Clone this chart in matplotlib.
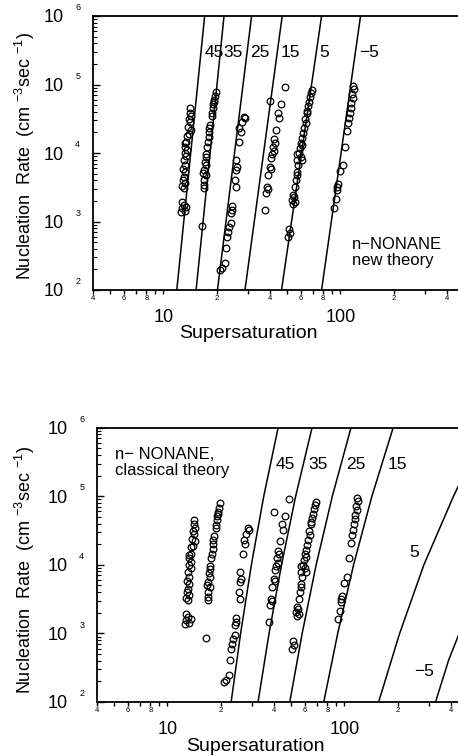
import numpy as np
import matplotlib
matplotlib.use("Agg")
import matplotlib.pyplot as plt
from matplotlib.ticker import LogLocator, FuncFormatter, FixedLocator

plt.rcParams['font.family'] = ['Liberation Sans', 'DejaVu Sans']
plt.rcParams['mathtext.fontset'] = 'custom'
plt.rcParams['mathtext.rm'] = 'Liberation Sans'

# Measured n-nonane nucleation rates: supersaturation S and rate J (cm^-3 s^-1)
s45 = [14.2, 14.1, 14.4, 13.9, 14.1, 13.8, 14.4, 13.6, 13.5, 13.2, 13.3, 13.6, 13.2, 13.5, 13.05,
       13.3, 12.9, 13.2, 13.05, 12.9, 13.2, 13.0, 12.8, 13.1, 13.5, 12.7, 12.5, 13.3, 13.9, 12.8]
j45 = [4.5e4, 3.9e4, 3.5e4, 3.1e4, 2.8e4, 2.4e4, 2.2e4, 1.8e4, 1.46e4, 1.38e4, 1.24e4, 1.1e4, 1.0e4,
       9.0e3, 7.9e3, 6.7e3, 5.8e3, 5.2e3, 4.4e3, 4.0e3, 3.6e3, 3.05e3, 1.95e3, 1.74e3, 1.65e3, 1.56e3,
       1.39e3, 1.44e3, 1.9e4, 3.3e3]

s35 = [19.7, 19.5, 19.4, 19.1, 19.0, 18.7, 18.9, 18.2, 18.15, 18.1, 17.9, 17.7, 17.5, 17.3, 17.2,
       17.5, 17.0, 16.8, 17.3, 17.0, 16.9, 17.0, 16.6, 19.3, 18.4]
j35 = [7.85e4, 6.8e4, 5.9e4, 5.2e4, 4.5e4, 3.8e4, 3.5e4, 2.3e4, 2.0e4, 1.73e4, 1.46e4, 1.24e4, 9.7e3,
       8.65e3, 7.5e3, 6.7e3, 5.65e3, 5.05e3, 4.8e3, 4.0e3, 3.4e3, 3.05e3, 870, 5.5e4, 2.6e4]

s25 = [28.5, 28.9, 27.9, 26.9, 27.3, 26.7, 25.6, 26.1, 25.6, 25.35, 25.6, 24.5, 24.3, 24.0, 24.2,
       23.4, 23.2, 22.9, 22.65, 22.25, 21.5, 21.0]
j25 = [3.4e4, 3.2e4, 2.8e4, 2.3e4, 2.0e4, 1.46e4, 7.9e3, 6.2e3, 5.65e3, 4.0e3, 3.2e3, 1.7e3, 1.47e3,
       1.32e3, 940, 840, 710, 600, 406, 245, 207, 196]

s15 = [48.4, 40.0, 45.9, 44.4, 44.9, 43.0, 42.1, 42.5, 41.7, 42.1, 41.2, 40.3, 40.0, 40.3, 39.0,
       38.3, 39.0, 37.8, 37.3]
j15 = [9.1e4, 5.8e4, 5.2e4, 3.9e4, 3.2e4, 2.2e4, 1.58e4, 1.42e4, 1.24e4, 1.08e4, 9.7e3, 8.35e3,
       6.2e3, 5.8e3, 4.8e3, 3.2e3, 2.95e3, 2.6e3, 1.47e3]

s5 = [69.3, 68.4, 67.2, 66.4, 65.5, 64.4, 65.0, 62.7, 63.6, 62.2, 61.7, 60.9, 59.6, 60.4, 59.05,
      58.3, 57.0, 59.6, 56.55, 60.9, 57.5, 56.55, 57.0, 55.8, 55.1, 54.1, 54.6, 53.4, 55.1, 54.1,
      51.2, 51.8, 50.7]
j5 = [8.3e4, 7.4e4, 6.5e4, 5.6e4, 4.85e4, 4.15e4, 3.9e4, 3.1e4, 2.7e4, 2.3e4, 1.94e4, 1.64e4,
      1.42e4, 1.31e4, 1.17e4, 1.01e4, 9.7e3, 8.85e3, 7.9e3, 7.9e3, 6.7e3, 5.3e3, 4.8e3, 4.0e3,
      3.2e3, 2.45e3, 2.25e3, 2.06e3, 1.95e3, 1.8e3, 770, 670, 600]

s_m5 = [118.2, 119.2, 116.7, 117.7, 115.1, 114.1, 112.6, 111.7, 110.7, 109.3, 105.6, 103.7, 99.4,
        96.8, 96.0, 95.1, 93.9, 91.9]
j_m5 = [9.5e4, 8.5e4, 7.3e4, 6.3e4, 5.4e4, 4.6e4, 3.9e4, 3.2e4, 2.7e4, 2.1e4, 1.24e4, 6.7e3, 5.5e3,
        3.5e3, 3.2e3, 2.9e3, 2.1e3, 1.6e3]

measured_s = [s45, s35, s25, s15, s5, s_m5]
measured_j = [j45, j35, j25, j15, j5, j_m5]
temps = ['45', '35', '25', '15', '5', '\u22125']

# New theory: supersaturation at J = 1e2 and 1e6 for each temperature
new_j = [1e2, 1e6]
new_s45 = [11.9, 17.1]
new_s35 = [15.3, 22.0]
new_s25 = [20.2, 31.5]
new_s15 = [28.9, 46.9]
new_s5 = [46.5, 78.3]
new_s_m5 = [78.3, 130.0]
new_s = [new_s45, new_s35, new_s25, new_s15, new_s5, new_s_m5]

# Classical theory curves
cl_j = [1e2, 1e3, 1e4, 1e5, 1e6]
cl_s45 = [22.9, 25.9, 29.8, 35.0, 42.2]
cl_s35 = [32.5, 37.5, 44.1, 53.0, 65.6]
cl_s25 = [49.1, 57.7, 69.2, 85.4, 108.9]
cl_s15 = [76.4, 91.6, 112.6, 142.9, 188.4]
cl_j5 = [1e2, 1e3, 1e4, 1e5, 2e5]
cl_s5 = [156.0, 205.0, 281.0, 413.0, 470.0]
cl_j_m5 = [1e2, 4.1e2, 8.0e2, 1.7e3]
cl_s_m5 = [327.0, 388.0, 430.0, 480.0]

label_j = 2.9e5


def log_interp(j, s_pts, j_pts):
    return 10 ** np.interp(np.log10(j), np.log10(j_pts), np.log10(s_pts))


def style_axes(ax, xmax):
    ax.set_xscale('log')
    ax.set_yscale('log')
    ax.set_xlim(4, xmax)
    ax.set_ylim(1e2, 1e6)
    ax.spines['right'].set_visible(False)
    for side in ['left', 'bottom', 'top']:
        ax.spines[side].set_linewidth(1.3)

    ax.xaxis.set_major_locator(FixedLocator([10, 100]))
    ax.xaxis.set_major_formatter(FuncFormatter(lambda v, p: f'{v:g}'))
    ax.xaxis.set_minor_locator(LogLocator(base=10, subs=np.arange(2, 10), numticks=20))

    def minor_fmt(v, p):
        lead = int(round(v / 10 ** np.floor(np.log10(v))))
        return str(lead) if lead in (2, 4, 6, 8) else ''
    ax.xaxis.set_minor_formatter(FuncFormatter(minor_fmt))
    ax.tick_params(axis='x', which='major', direction='out', length=3, width=1, pad=11, labelsize=13)
    ax.tick_params(axis='x', which='minor', direction='out', length=3, width=1, pad=0.5, labelsize=5.5)

    ax.yaxis.set_major_locator(LogLocator(base=10, numticks=10))
    ax.yaxis.set_minor_locator(LogLocator(base=10, subs=np.arange(2, 10), numticks=20))
    ax.yaxis.set_major_formatter(FuncFormatter(lambda v, p: '10'))
    ax.tick_params(axis='y', which='major', direction='in', length=5, width=1, pad=21, labelsize=13)
    ax.tick_params(axis='y', which='minor', direction='in', length=3, width=0.8)
    ax.tick_params(top=False, right=False)

    # decade exponents beside the "10" tick labels
    for v in [1e2, 1e3, 1e4, 1e5, 1e6]:
        ax.annotate(str(int(round(np.log10(v)))), xy=(0, v), xycoords=('axes fraction', 'data'),
                    xytext=(-11, 6), textcoords='offset points', fontsize=6.5,
                    ha='center', va='center', annotation_clip=False)

    ax.set_xlabel('Supersaturation', fontsize=14)
    ax.set_ylabel('Nucleation  Rate  (cm $^{-3}$sec $^{-1}$)', fontsize=13)
    ax.xaxis.label.set_va('center')
    ax.yaxis.label.set_va('center')


fig = plt.figure(figsize=(4.58, 7.56), dpi=100)

# upper panel: new theory
ax1 = fig.add_axes([93 / 458, 1 - 290 / 756, 365 / 458, 274 / 756])
style_axes(ax1, 462)
for s, j in zip(measured_s, measured_j):
    ax1.plot(s, j, 'o', mfc='none', mec='black', ms=4.8, mew=0.9, clip_on=False)
for s_pts, t in zip(new_s, temps):
    ax1.plot(s_pts, new_j, color='black', lw=1.1)
    ax1.annotate(t, xy=(log_interp(label_j, s_pts, new_j), label_j), xytext=(2.5, 0),
                 textcoords='offset points', fontsize=12.5, ha='left', va='center')
ax1.text(0.71, 0.137, 'n\u2212NONANE\nnew theory', transform=ax1.transAxes,
         fontsize=12, ha='left', va='center', linespacing=1.1)
ax1.yaxis.set_label_coords(-68 / 365, 0.49)
ax1.xaxis.set_label_coords(155 / 365, -43 / 274)

# lower panel: classical theory
ax2 = fig.add_axes([97 / 458, 1 - 702 / 756, 361 / 458, 274.3 / 756])
style_axes(ax2, 438)
for s, j in zip(measured_s, measured_j):
    ax2.plot(s, j, 'o', mfc='none', mec='black', ms=4.8, mew=0.9)

cl_curves_s = [cl_s45, cl_s35, cl_s25, cl_s15, cl_s5, cl_s_m5]
cl_curves_j = [cl_j, cl_j, cl_j, cl_j, cl_j5, cl_j_m5]
for s_pts, j_pts in zip(cl_curves_s, cl_curves_j):
    ax2.plot(s_pts, j_pts, color='black', lw=1.1)

# temperature labels: right of the steep curves, left of the two shallow ones
for s_pts, t in zip(cl_curves_s[:4], temps[:4]):
    ax2.annotate(t, xy=(log_interp(label_j, s_pts, cl_j), label_j), xytext=(4, 0),
                 textcoords='offset points', fontsize=12.5, ha='left', va='center')
ax2.annotate(temps[4], xy=(log_interp(1.5e4, cl_s5, cl_j5), 1.5e4), xytext=(-7, 0),
             textcoords='offset points', fontsize=12.5, ha='right', va='center')
ax2.annotate(temps[5], xy=(log_interp(2.75e2, cl_s_m5, cl_j_m5), 2.75e2), xytext=(-8, 0),
             textcoords='offset points', fontsize=12.5, ha='right', va='center')
ax2.text(0.05, 0.873, 'n\u2212 NONANE,\nclassical theory', transform=ax2.transAxes,
         fontsize=12, ha='left', va='center', linespacing=1.1)
ax2.yaxis.set_label_coords(-72 / 361, 0.48)
ax2.xaxis.set_label_coords(158 / 361, -44.7 / 274.3)

fig.savefig('out.png', dpi=100)
